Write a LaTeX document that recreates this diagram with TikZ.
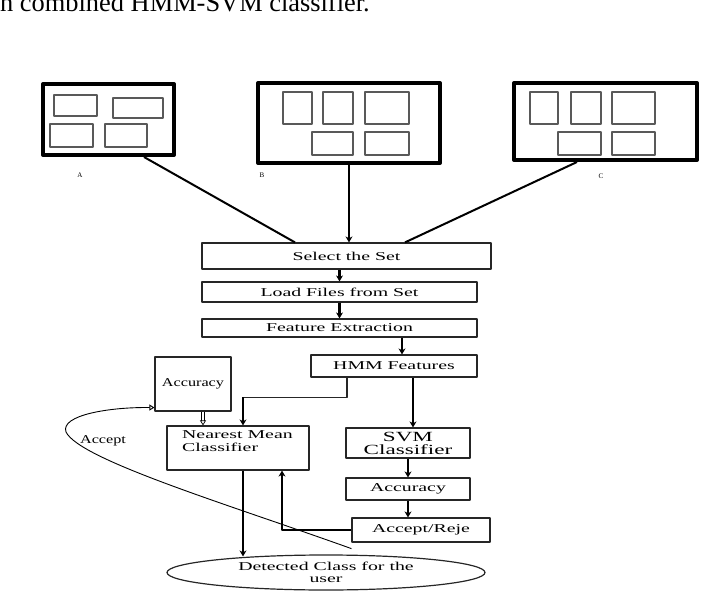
\documentclass[tikz,border=0pt]{standalone}
\usepackage{fontspec}
\setmainfont{Liberation Serif}
\newfontfamily\widefont[FakeStretch=1.65]{Liberation Serif}
\newfontfamily\midfont[FakeStretch=1.35]{Liberation Serif}
\usetikzlibrary{arrows.meta,shapes.geometric}
\tikzset{
  setframe/.style={draw, line width=4, minimum width=#1},
  part/.style={draw=black!65, line width=1.1},
  flowbox/.style={draw=black!85, line width=1.2, inner sep=0, font=\widefont\fontsize{12}{13}\selectfont},
  arr/.style={line width=2.4, -{Stealth[length=6pt,width=7pt]}},
  feed/.style={line width=1.6}
}
\begin{document}
\begin{tikzpicture}[x=1pt, y=-1pt, line join=round]
	\useasboundingbox (0,0) rectangle (715,591);
	% caption line cut at the top
	\node (cap) [anchor=base west, inner sep=0, font=\fontsize{26.4}{28}\selectfont] at (0,12) {n combined HMM-SVM classifier.};
	% the three sets
	\node (bxa) [setframe=131, minimum height=71] at (108.5,119.5) {};
	\node (bxb) [setframe=182, minimum height=80] at (349,123) {};
	\node (bxc) [setframe=183, minimum height=77] at (605.5,121.5) {};
	\foreach \xa/\ya/\xb/\yb in {54/95/97/116, 113/98/163/118, 50/124/93/147, 105/124/147/147,
	  283/92/312/124, 323/92/353/124, 365/92/409/124, 312/132/353/155, 365/132/409/155,
	  530/92/558/124, 571/92/601/124, 612/92/655/124, 558/132/601/155, 612/132/655/155}
	\draw[part] (\xa,\ya) rectangle (\xb,\yb);
	\node (laba) [font=\fontsize{7}{8}\selectfont] at (80,175) {A};
	\node (labb) [font=\fontsize{7}{8}\selectfont] at (262,175) {B};
	\node (labc) [font=\fontsize{7}{8}\selectfont] at (601,176) {C};
	% flow boxes
	\node (sel) [flowbox, minimum width=289, minimum height=26] at (346.5,256) {Select the Set};
	\node (load) [flowbox, minimum width=275, minimum height=20] at (339.5,292) {Load Files from Set};
	\node (feat) [flowbox, minimum width=275, minimum height=18] at (339.5,328) {Feature Extraction};
	\node (hmm) [flowbox, minimum width=166, minimum height=22] at (394,366) {HMM Features};
	\node (accl) [flowbox, minimum width=76, minimum height=54, font=\midfont\fontsize{12}{13}\selectfont] at (193,384) {Accuracy};
	\node (nmc) [flowbox, minimum width=142, minimum height=44] at (238,448) {};
	\node (nmctext) [anchor=north west, align=left, inner sep=0, font=\widefont\fontsize{12}{13}\selectfont] at (182,430) {Nearest Mean\\Classifier};
	\node (svm) [flowbox, minimum width=124, minimum height=30, align=center, font=\widefont\fontsize{14}{13}\selectfont] at (408,443) {SVM\\Classifier};
	\node (accr) [flowbox, minimum width=124, minimum height=22] at (408,489) {Accuracy};
	\node (acc) [flowbox, minimum width=138, minimum height=24] at (421,530) {Accept/Reje};
	\node (det) [ellipse, draw=black!85, line width=1.2, minimum width=318, minimum height=35, inner sep=0, align=center,
	  font=\widefont\fontsize{12}{12}\selectfont] at (326,572.5) {Detected Class for the\\user};
	% connectors
	\draw[line width=2] ([xshift=35.5pt]bxa.south) -- ([xshift=-51.5pt]sel.north);
	\draw[arr] (bxb.south) -- (bxb.south |- sel.north);
	\draw[line width=2] ([xshift=-28.5pt]bxc.south) -- ([xshift=58.5pt]sel.north);
	\draw[arr] (sel.south -| load.north) -- (load.north);
	\draw[arr] (load.south) -- (feat.north);
	\draw[arr] ([xshift=8pt]hmm.north |- feat.south) -- ([xshift=8pt]hmm.north);
	\draw[line width=1.2, draw=black!85] ([xshift=-47pt]hmm.south) |- ([xshift=5pt,yshift=28pt]nmc.north);
	\draw[arr] ([xshift=5pt,yshift=28pt]nmc.north) -- ([xshift=5pt]nmc.north);
	\draw[arr] ([xshift=19pt]hmm.south) -- ([xshift=19pt]hmm.south |- svm.north);
	\draw[arr] (svm.south) -- (accr.north);
	\draw[arr] (accr.south) -- (accr.south |- acc.north);
	\draw[feed] (acc.west) -| ([xshift=44pt,yshift=-12pt]nmc.south);
	\draw[arr] ([xshift=44pt,yshift=-12pt]nmc.south) -- ([xshift=44pt]nmc.south);
	\draw[arr] ([xshift=5pt]nmc.south) -- ([xshift=5pt,yshift=-2pt]nmc.south |- det.north);
	\draw[double, double distance=2pt, line width=0.7, -{Triangle[open,length=5pt,width=6pt]}] ([xshift=10pt]accl.south) -- ([xshift=10pt]accl.south |- nmc.north);
	% accept loop back to the accuracy box
	\draw[line width=0.9, -{Triangle[open,length=5pt,width=6pt]}] ([yshift=-6pt]acc.south west)
	  .. controls (230,505) and (80,460) .. (66,432)
	  .. controls (60,415) and (110,407) .. ([yshift=4pt]accl.south west);
	\node (accept) [font=\midfont\fontsize{12}{13}\selectfont] at (103,441) {Accept};
\end{tikzpicture}
\end{document}
